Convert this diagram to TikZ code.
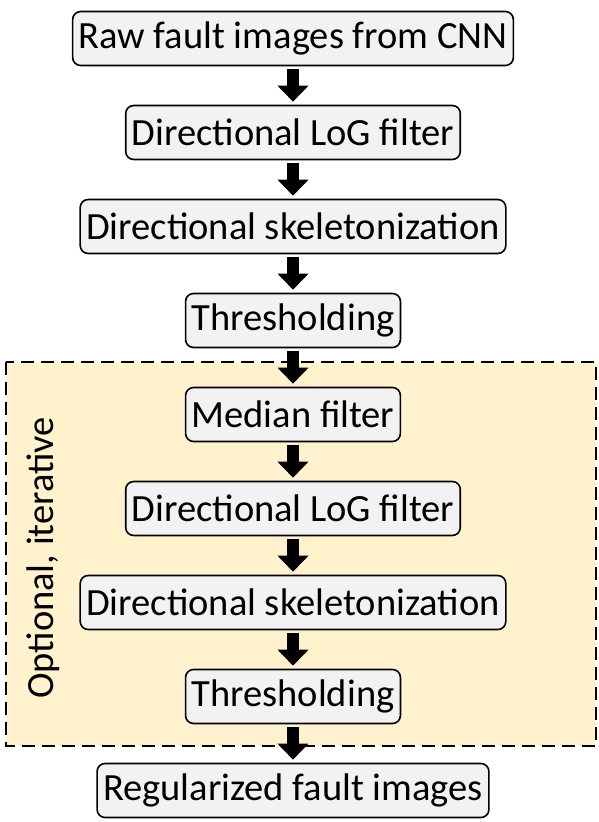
\documentclass[tikz,border=0pt]{standalone}
\usepackage{fontspec}
\setmainfont{Carlito}
\usepackage{tikz}
\usetikzlibrary{arrows.meta,positioning}
\definecolor{boxgray}{HTML}{F2F2F2}
\definecolor{optyellow}{HTML}{FFF2CC}

\begin{document}
\begin{tikzpicture}[x=1pt,y=1pt,node distance=94pt]
		\tikzstyle{stage} = [rectangle, rounded corners=8pt, minimum height=54pt, inner xsep=6pt,
		text centered, draw=black, line width=1.6pt, fill=boxgray, font=\fontsize{38.5}{42}\selectfont]
		\tikzstyle{arrow} = [line width=12pt, -{Triangle[width=30pt,length=16pt]}, shorten <=3pt, shorten >=3pt]
		\useasboundingbox (0,0) rectangle (599,-822);
		\draw [dashed, dash pattern=on 13pt off 7pt, line width=1.6pt, fill=optyellow] (6,-362) rectangle (596,-746);
		\node (optional) [rotate=90, font=\fontsize{38.5}{42}\selectfont] at (43,-558) {Optional, iterative};
		\node (rawImages) [stage] at (293,-38.5) {Raw fault images from CNN};
		\node (logFilter) [stage, below of=rawImages] {Directional LoG filter};
		\node (skeleton) [stage, below of=logFilter] {Directional skeletonization};
		\node (threshold) [stage, below of=skeleton] {Thresholding};
		\node (median) [stage, below of=threshold] {Median filter};
		\node (logFilterB) [stage, below of=median] {Directional LoG filter};
		\node (skeletonB) [stage, below of=logFilterB] {Directional skeletonization};
		\node (thresholdB) [stage, below of=skeletonB] {Thresholding};
		\node (regularized) [stage, below of=thresholdB] {Regularized fault images};
		\draw [arrow] (rawImages) -- (logFilter);
		\draw [arrow] (logFilter) -- (skeleton);
		\draw [arrow] (skeleton) -- (threshold);
		\draw [arrow] (threshold) -- (median);
		\draw [arrow] (median) -- (logFilterB);
		\draw [arrow] (logFilterB) -- (skeletonB);
		\draw [arrow] (skeletonB) -- (thresholdB);
		\draw [arrow] (thresholdB) -- (regularized);
\end{tikzpicture}
\end{document}
